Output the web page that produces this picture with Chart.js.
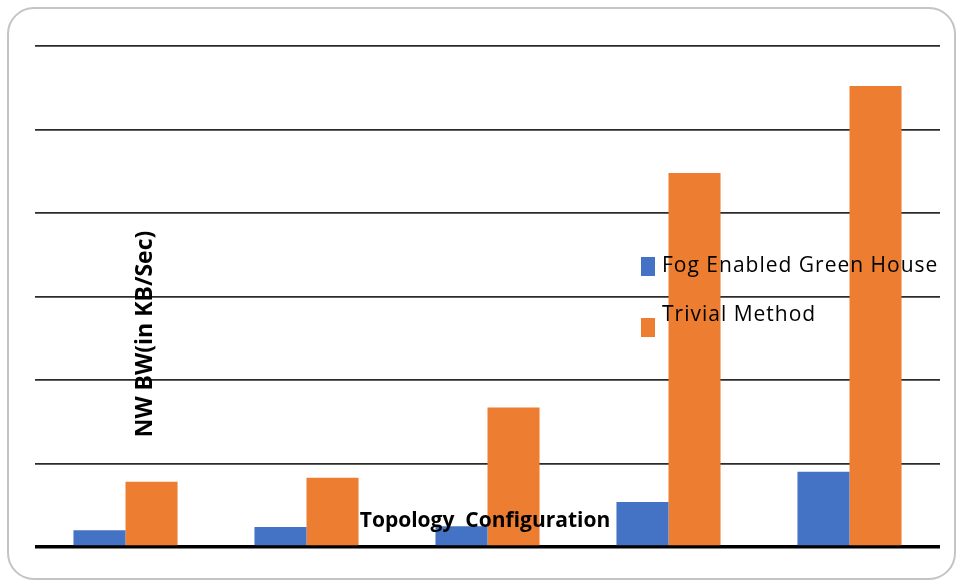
<!DOCTYPE html>
<html>
<head>
<meta charset="utf-8">
<script src="https://cdn.jsdelivr.net/npm/chart.js@4"></script>
<style>
  html, body { margin: 0; padding: 0; background: #fff; }
  #wrap { position: relative; width: 958px; height: 584px; }
</style>
</head>
<body>
<div id="wrap"><canvas id="bwChart" width="958" height="584"></canvas></div>
<script>
// datos (sin etiquetas de ticks visibles)
const topologies = ['T1', 'T2', 'T3', 'T4', 'T5'];
const fogValues = [0.20, 0.24, 0.25, 0.54, 0.90];
const trivialValues = [0.78, 0.83, 1.67, 4.48, 5.52];
const seriesNames = ['Fog Enabled Green House', 'Trivial Method'];
const seriesColors = ['#4472C4', '#ED7D31'];
const yTitle = 'NW BW(in KB/Sec)';
const xTitle = 'Topology  Configuration';

// borde redondeado, titulos y leyenda dibujados a mano
const decorPlugin = {
    id: 'decor',
    beforeDraw(chart) {
        const ctx = chart.ctx;
        ctx.save();
        ctx.fillStyle = '#fff';
        ctx.fillRect(0, 0, chart.width, chart.height);
        ctx.strokeStyle = '#c4c4c4';
        ctx.lineWidth = 2;
        ctx.beginPath();
        ctx.roundRect(8, 8, chart.width - 11, chart.height - 13, 26);
        ctx.stroke();
        ctx.restore();
    },
    afterDatasetsDraw(chart) {
        const ctx = chart.ctx;
        ctx.save();
        // titulo eje Y
        ctx.translate(145, 334);
        ctx.rotate(-Math.PI / 2);
        ctx.fillStyle = '#000';
        ctx.font = 'bold 23px "Open Sans"';
        ctx.textAlign = 'center';
        ctx.textBaseline = 'middle';
        ctx.fillText(yTitle, 0, 0);
        ctx.restore();

        ctx.save();
        ctx.fillStyle = '#000';
        ctx.font = 'bold 21px "Open Sans"';
        ctx.textAlign = 'center';
        ctx.textBaseline = 'middle';
        ctx.fillText(xTitle, 485, 521);

        // leyenda
        ctx.font = '21px "Open Sans"';
        ctx.letterSpacing = '1px';
        ctx.textAlign = 'left';
        const legendRows = [
            { boxY: 257, textY: 266 },
            { boxY: 318, textY: 315 }
        ];
        chart.data.datasets.forEach((ds, i) => {
            ctx.fillStyle = ds.backgroundColor;
            ctx.fillRect(641, legendRows[i].boxY, 14, 19);
            ctx.fillStyle = '#000';
            ctx.fillText(ds.label, 662, legendRows[i].textY);
        });
        ctx.restore();
    }
};

const ctx = document.getElementById('bwChart').getContext('2d');
new Chart(ctx, {
    type: 'bar',
    data: {
        labels: topologies,
        datasets: [
            { label: seriesNames[0], data: fogValues, backgroundColor: seriesColors[0] },
            { label: seriesNames[1], data: trivialValues, backgroundColor: seriesColors[1] }
        ]
    },
    options: {
        responsive: false,
        animation: false,
        layout: { padding: { left: 35, right: 18, top: 46, bottom: 37 } },
        datasets: { bar: { categoryPercentage: 0.575, barPercentage: 1.0 } },
        plugins: { legend: { display: false }, tooltip: { enabled: false } },
        scales: {
            x: {
                grid: { display: false, drawTicks: false },
                border: { display: false },
                ticks: { display: false }
            },
            y: {
                min: 0, max: 6,
                ticks: { display: false, stepSize: 1 },
                border: { display: false },
                grid: {
                    drawTicks: false,
                    color: ctx => ctx.tick.value === 0 ? '#000' : '#2b2b2b',
                    lineWidth: ctx => ctx.tick.value === 0 ? 3.5 : 1.8
                }
            }
        }
    },
    plugins: [decorPlugin]
});
</script>
</body>
</html>
